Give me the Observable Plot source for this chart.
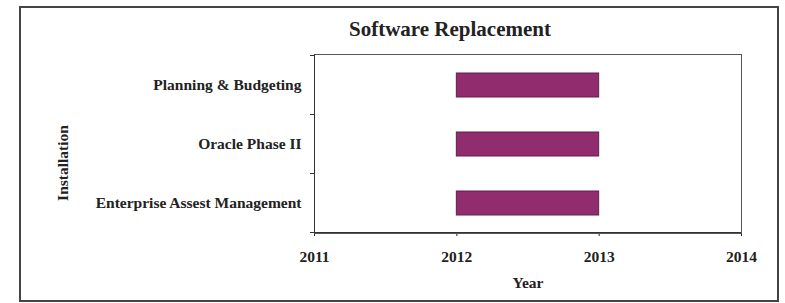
<!DOCTYPE html>
<html>
<head>
<meta charset="utf-8">
<script src="https://cdn.jsdelivr.net/npm/d3@7"></script>
<script src="https://cdn.jsdelivr.net/npm/@observablehq/plot@0.6"></script>
<style>
  html, body { margin: 0; padding: 0; background: #fff; }
  #wrap { position: relative; width: 785px; height: 303px; overflow: hidden; font-family: "Liberation Serif", "Times New Roman", serif; }
  #border { position: absolute; left: 19px; top: 6px; width: 760px; height: 296px; border: 2px solid #444; box-sizing: border-box; }
  #title { position: absolute; left: 250px; width: 400px; top: 17px; text-align: center; font-weight: bold; font-size: 21px; color: #222; }
  #chart { position: absolute; left: 0; top: 0; }
</style>
</head>
<body>
<div id="wrap">
  <div id="border"></div>
  <div id="title">Software Replacement</div>
  <div id="chart"></div>
</div>
<script>
const categories = ["Planning & Budgeting", "Oracle Phase II", "Enterprise Assest Management"];
const startYear = [2012, 2012, 2012];
const endYear = [2013, 2013, 2013];
const xTicks = [2011, 2012, 2013, 2014];

const rows = categories.map((c, i) => ({name: c, start: startYear[i], end: endYear[i]}));

const chart = Plot.plot({
  width: 785,
  height: 303,
  marginLeft: 314,
  marginRight: 44,
  marginTop: 54,
  marginBottom: 70,
  style: {fontFamily: "'Liberation Serif', 'Times New Roman', serif", fontSize: "15.5px", fontWeight: "bold", color: "#222", background: "transparent"},
  x: {domain: [2011, 2014], ticks: xTicks, tickFormat: d => String(d), label: "Year", labelArrow: "none", labelAnchor: "center", labelOffset: 54, tickSize: 3, tickPadding: 14},
  y: {domain: categories, paddingInner: 0.6, paddingOuter: 0.3, label: "Installation", labelArrow: "none", labelAnchor: "center", labelOffset: 258, tickSize: 0, tickPadding: 13},
  marks: [
    Plot.barX(rows, {y: "name", x1: "start", x2: "end", fill: "#912d6e", stroke: "#5e2148", strokeWidth: 1}),
    Plot.frame({stroke: "#555"}),
    Plot.ruleX([2011], {stroke: "#333"})
  ]
});
document.getElementById("chart").appendChild(chart);

const svgEl = chart.tagName.toLowerCase() === "svg" ? chart : chart.querySelector("svg");
const svg = d3.select(svgEl);

// shift the y-axis title down a little, as in the reference
svg.selectAll('[aria-label="y-axis label"]').each(function () {
  const t = this.getAttribute("transform") || "";
  this.setAttribute("transform", "translate(0,19) " + t);
});

// boundary ticks on the y axis, positioned from the band scale
const ys = chart.scale("y");
const gap = (ys.step - ys.bandwidth) / 2;
const bounds = categories.map(c => ys.apply(c) - gap);
bounds.push(ys.apply(categories[categories.length - 1]) + ys.bandwidth + gap);
const xs = chart.scale("x");
const x0 = xs.apply(2011);
svg.append("g").attr("stroke", "#333")
  .selectAll("line").data(bounds).join("line")
  .attr("x1", x0 - 4).attr("x2", x0)
  .attr("y1", d => d).attr("y2", d => d);
// dark bottom axis line
svg.append("line").attr("stroke", "#333")
  .attr("x1", x0).attr("x2", xs.apply(2014))
  .attr("y1", bounds[bounds.length - 1]).attr("y2", bounds[bounds.length - 1]);
</script>
</body>
</html>
